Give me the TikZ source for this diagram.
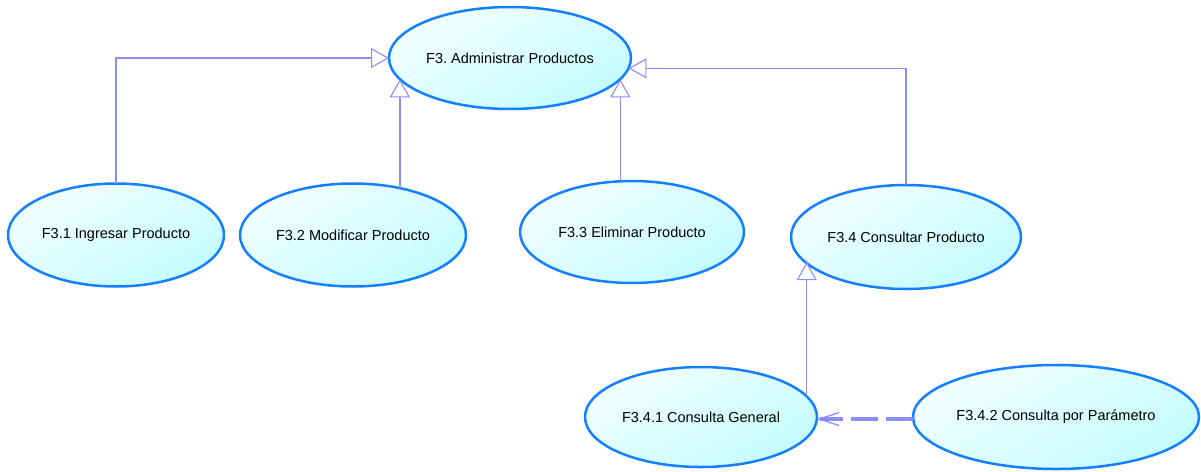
\documentclass[tikz,border=0pt]{standalone}
\usepackage{fontspec}
\setmainfont{Liberation Sans}
\usetikzlibrary{shapes.geometric,arrows.meta}
\frenchspacing

\definecolor{ucborder}{RGB}{20,128,255}
\definecolor{uclight}{RGB}{242,255,255}
\definecolor{ucdark}{RGB}{196,252,255}
\definecolor{linkcol}{RGB}{140,140,255}

\tikzset{
  usecase/.style={ellipse, draw=ucborder, line width=2.5pt,
    top color=uclight, bottom color=ucdark, shading angle=30,
    inner sep=0pt, outer sep=0pt,
    font=\fontsize{14.5}{17}\selectfont},
  gen/.style={draw=linkcol, line width=1.3pt,
    -{Triangle[open, length=18pt, width=20pt, line width=1.1pt, fill=white]}},
  incl/.style={draw=linkcol, line width=3.2pt, dash pattern=on 27pt off 8pt,
    -{Straight Barb[length=20pt, width=13pt, line width=1.3pt]}}
}

\begin{document}
\begin{tikzpicture}[x=1pt,y=-1pt]
  \useasboundingbox (0,0) rectangle (1201,471);

  % use cases
  \node[usecase, minimum width=242pt, minimum height=102pt] (f3)   at (510,58)  {F3. Administrar Productos};
  \node[usecase, minimum width=216pt, minimum height=103pt] (f31)  at (116,235) {F3.1 Ingresar Producto};
  \node[usecase, minimum width=226pt, minimum height=103pt] (f32)  at (353,235) {F3.2 Modificar Producto};
  \node[usecase, minimum width=224pt, minimum height=102pt] (f33)  at (632,232) {F3.3 Eliminar Producto};
  \node[usecase, minimum width=230pt, minimum height=104pt] (f34)  at (906,237) {F3.4 Consultar Producto};
  \node[usecase, minimum width=232pt, minimum height=100pt] (f341) at (701,417) {F3.4.1 Consulta General};
  \node[usecase, minimum width=286pt, minimum height=104pt] (f342) at (1056,417) {F3.4.2 Consulta por Parámetro};

  % generalisations
  \draw[gen] (f31.north) |- (f3.180);
  \draw[gen] (f32.45) -- (f32.45 |- f3.191);
  \draw[gen] (f33.103) -- (f33.103 |- f3.349);
  \draw[gen] (f34.north) |- (f3.355);
  \draw[gen] (f341.11.5) -- (f341.11.5 |- f34.194.4);

  % dependency
  \draw[incl] ([yshift=-2pt]f342.west) -- ([yshift=-2pt]f341.east);
\end{tikzpicture}
\end{document}
